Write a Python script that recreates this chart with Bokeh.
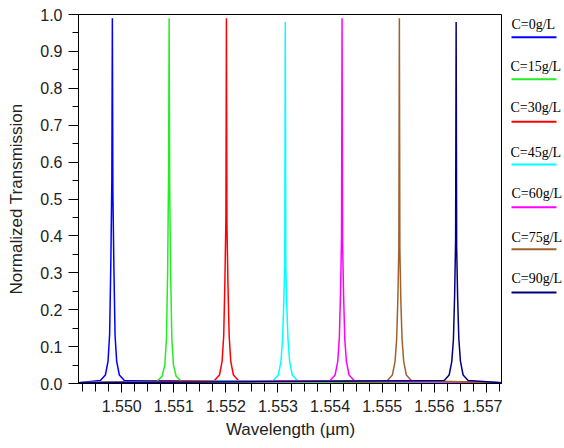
from bokeh.plotting import figure
from bokeh.models import Range1d, FixedTicker
from bokeh.layouts import row
from bokeh.core.properties import value
from bokeh.embed import file_html
from bokeh.resources import INLINE

# ---- data ----
labels = ["C=0g/L", "C=15g/L", "C=30g/L", "C=45g/L", "C=60g/L", "C=75g/L", "C=90g/L"]
colors = ["#0000FF", "#22EE22", "#FF0000", "#00FFFF", "#FF00FF", "#A0622D", "#000080"]

wl_0 = [1.54917, 1.54959, 1.549686, 1.549737, 1.549768, 1.549791, 1.54981, 1.54982, 1.54983, 1.549849, 1.549872, 1.549903, 1.549954, 1.55005, 1.55731]
tr_0 = [0.002, 0.008, 0.023, 0.06, 0.135, 0.33, 0.55, 0.99, 0.52, 0.32, 0.13, 0.06, 0.023, 0.008, 0.002]

wl_15 = [1.54917, 1.55068, 1.550776, 1.550827, 1.550858, 1.550881, 1.5509, 1.55091, 1.55092, 1.550939, 1.550962, 1.550993, 1.551044, 1.55114, 1.55731]
tr_15 = [0.002, 0.006, 0.02, 0.05, 0.12, 0.30, 0.58, 0.99, 0.55, 0.30, 0.12, 0.05, 0.02, 0.006, 0.002]

wl_30 = [1.54917, 1.55178, 1.551876, 1.551927, 1.551958, 1.551981, 1.552, 1.55201, 1.55202, 1.552039, 1.552062, 1.552093, 1.552144, 1.55224, 1.55731]
tr_30 = [0.002, 0.008, 0.023, 0.06, 0.13, 0.28, 0.45, 0.99, 0.43, 0.27, 0.13, 0.06, 0.023, 0.008, 0.002]

wl_45 = [1.54917, 1.55291, 1.553006, 1.553057, 1.553088, 1.553111, 1.55313, 1.55314, 1.55315, 1.553169, 1.553192, 1.553223, 1.553274, 1.55337, 1.55731]
tr_45 = [0.002, 0.008, 0.023, 0.06, 0.12, 0.22, 0.33, 0.98, 0.32, 0.21, 0.12, 0.06, 0.023, 0.008, 0.002]

wl_60 = [1.54917, 1.554, 1.554096, 1.554147, 1.554178, 1.554201, 1.55422, 1.55423, 1.55424, 1.554259, 1.554282, 1.554313, 1.554364, 1.55446, 1.55731]
tr_60 = [0.002, 0.008, 0.023, 0.06, 0.125, 0.25, 0.40, 0.99, 0.38, 0.24, 0.12, 0.06, 0.023, 0.008, 0.002]

wl_75 = [1.54917, 1.5551, 1.555196, 1.555247, 1.555278, 1.555301, 1.55532, 1.55533, 1.55534, 1.555359, 1.555382, 1.555413, 1.555464, 1.55556, 1.55731]
tr_75 = [0.002, 0.008, 0.023, 0.06, 0.12, 0.23, 0.37, 0.99, 0.36, 0.22, 0.12, 0.06, 0.023, 0.008, 0.002]

wl_90 = [1.54917, 1.55619, 1.556286, 1.556337, 1.556368, 1.556391, 1.55641, 1.55642, 1.55643, 1.556449, 1.556472, 1.556503, 1.556554, 1.55665, 1.55731]
tr_90 = [0.002, 0.008, 0.023, 0.06, 0.12, 0.24, 0.39, 0.98, 0.37, 0.23, 0.12, 0.06, 0.023, 0.008, 0.002]

series_wl = [wl_0, wl_15, wl_30, wl_45, wl_60, wl_75, wl_90]
series_tr = [tr_0, tr_15, tr_30, tr_45, tr_60, tr_75, tr_90]

x_ticks = [1.550, 1.551, 1.552, 1.553, 1.554, 1.555, 1.556, 1.557]
x_tick_labels = ["1.550", "1.551", "1.552", "1.553", "1.554", "1.555", "1.556", "1.557"]
y_ticks = [0.0, 0.1, 0.2, 0.3, 0.4, 0.5, 0.6, 0.7, 0.8, 0.9, 1.0]

H = 444

# ---- main figure ----
p = figure(width=502, height=H, output_backend="svg", toolbar_location=None,
           x_range=Range1d(1.54917, 1.55731), y_range=Range1d(0.0, 1.0),
           min_border_left=78, min_border_right=0, min_border_top=14, min_border_bottom=61)
p.background_fill_color = "white"
p.border_fill_color = "white"
p.outline_line_color = "black"
p.outline_line_width = 1
p.xgrid.visible = False
p.ygrid.visible = False

for wl, tr, c in zip(series_wl, series_tr, colors):
    p.line(wl, tr, line_color=c, line_width=1.5)

x_minor = [round(1.54925 + 0.00025 * i, 5) for i in range(33)]
y_minor = [round(0.05 * i, 2) for i in range(21)]
p.xaxis.ticker = FixedTicker(ticks=x_ticks, minor_ticks=x_minor)
p.xaxis.major_label_overrides = {t: s for t, s in zip(x_ticks, x_tick_labels)}
p.yaxis.ticker = FixedTicker(ticks=y_ticks, minor_ticks=y_minor)
p.yaxis.major_label_overrides = {t: f"{t:.1f}" for t in y_ticks}

for ax in (p.xaxis[0], p.yaxis[0]):
    ax.axis_line_color = "black"
    ax.major_tick_line_color = "black"
    ax.minor_tick_line_color = "black"
    ax.major_tick_in = 0
    ax.minor_tick_in = 0
    ax.major_label_text_font = "Liberation Sans"
    ax.major_label_text_font_size = "16px"
    ax.major_label_text_color = "#222222"
    ax.axis_label_text_font = "Liberation Sans"
    ax.axis_label_text_font_size = "17px"
    ax.axis_label_text_font_style = "normal"
    ax.axis_label_text_color = "#222222"

p.xaxis.major_tick_out = 9
p.xaxis.minor_tick_out = 8
p.xaxis.major_label_standoff = 7
p.xaxis.axis_label = "Wavelength (\u00b5m)"
p.xaxis.axis_label_standoff = 5

p.yaxis.major_tick_out = 10
p.yaxis.minor_tick_out = 6
p.yaxis.major_label_standoff = 6
p.yaxis.axis_label = "Normalized Transmission"
p.yaxis.axis_label_standoff = 11

# ---- legend panel to the right (page-pixel coordinates) ----
leg_text_x = [9, 8, 8, 8, 9, 9, 9]
leg_text_y = [24, 66, 107, 152, 193, 237, 278]
leg_line_x0, leg_line_x1 = 9, 54
leg_line_y = [36.7, 78.7, 121.3, 164, 206.7, 248.7, 292]

q = figure(width=62, height=H, output_backend="svg", toolbar_location=None,
           x_range=Range1d(0, 62), y_range=Range1d(383, 14),
           x_axis_location=None, y_axis_location=None,
           min_border_left=0, min_border_right=0, min_border_top=14, min_border_bottom=61)
q.outline_line_color = None
q.xgrid.visible = False
q.ygrid.visible = False
q.background_fill_color = "white"
q.border_fill_color = "white"
q.text(x=leg_text_x, y=leg_text_y, text=labels, text_font=value("Liberation Serif"),
       text_font_size="14px", text_baseline="middle", text_color="black")
q.segment(x0=[leg_line_x0] * 7, y0=leg_line_y, x1=[leg_line_x1] * 7, y1=leg_line_y,
          line_color=colors, line_width=2)

layout = row(p, q, spacing=0)
open("out.html", "w").write(file_html(layout, INLINE))
